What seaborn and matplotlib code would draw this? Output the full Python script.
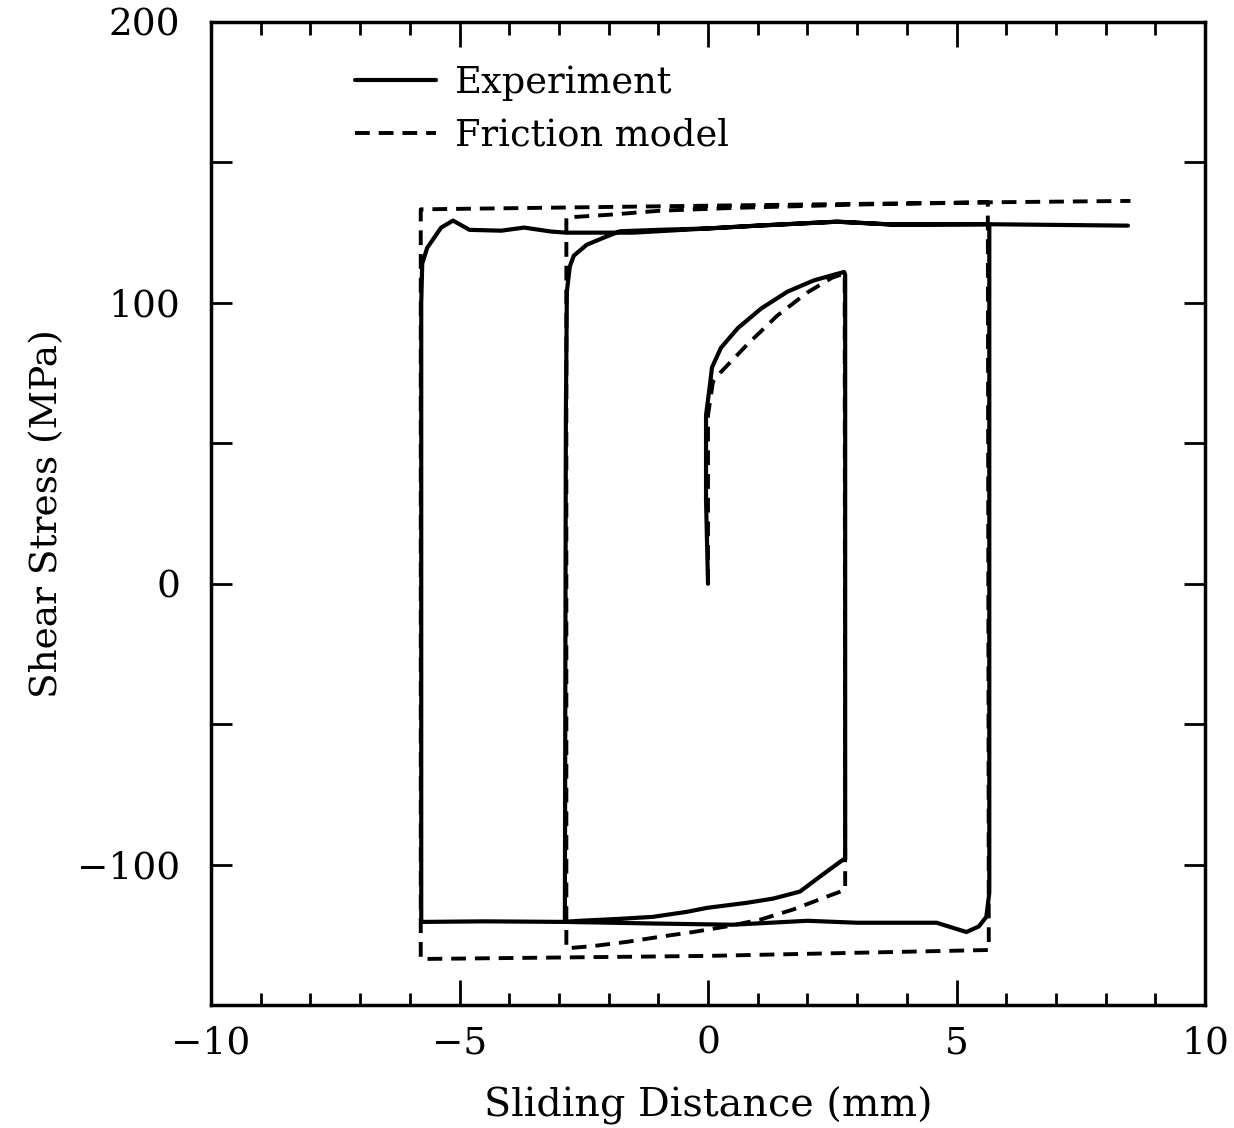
import numpy as np
import pandas as pd
import matplotlib
matplotlib.use("Agg")
import matplotlib.pyplot as plt
import seaborn as sns
from matplotlib.ticker import MultipleLocator

# ---- data ----
exp_x = [0.00, -0.04, -0.04, 0.04, 0.08, 0.26, 0.60, 1.07, 1.60, 2.13, 2.53, 2.74,
         2.76, 2.76,
         2.72, 2.25, 1.85, 1.31, 0.78, -0.02, -0.42, -1.11, -1.77, -2.58, -2.88,
         -2.86, -2.84, -2.78, -2.70, -2.44, -2.10, -1.77, -1.00, 0.00, 1.00, 2.60, 3.70, 5.63,
         5.66, 5.66, 5.60, 5.45, 5.20, 4.60, 3.00, 2.00, 0.50, -1.00, -2.88, -4.50, -5.75,
         -5.77, -5.77, -5.75, -5.65, -5.37, -5.13, -4.80, -4.16, -3.70, -3.16, -2.86, -1.50,
         0.00, 1.00, 2.60, 3.70, 5.63, 8.45]
exp_y = [0.0, 30.0, 60.0, 71.0, 77.0, 84.0, 91.0, 98.0, 104.0, 108.0, 110.0, 111.0,
         110.0, -98.0,
         -98.2, -104.3, -109.6, -112.1, -113.6, -115.4, -116.8, -118.6, -119.3, -120.0, -120.4,
         60.0, 104.0, 113.0, 116.8, 120.7, 123.2, 125.5, 126.0, 126.5, 127.5, 128.9, 127.9, 128.0,
         127.0, -110.0, -118.6, -122.0, -124.0, -120.7, -120.7, -120.0, -121.4, -121.0, -120.4, -120.2, -120.4,
         -120.0, 100.0, 114.0, 119.6, 126.8, 129.3, 126.0, 125.7, 126.8, 125.4, 125.0, 125.0,
         126.5, 127.5, 128.9, 127.9, 128.0, 127.5]

model_x = [0.00, 0.00, 0.10, 0.24, 0.78, 1.39, 1.99, 2.50, 2.75,
           2.76, 2.39, 1.71, 1.05, 0.38, -0.30, -0.97, -1.63, -2.31, -2.85,
           -2.85, -1.97, -0.97, 0.50, 3.00, 5.63,
           5.65, 0.00, -5.78,
           -5.78, 0.00, 5.63, 8.50]
model_y = [0.0, 60.0, 72.0, 75.0, 85.0, 95.4, 103.6, 109.0, 110.5,
           -109.0, -111.4, -116.0, -119.6, -122.0, -124.0, -125.7, -127.5, -129.0, -129.8,
           130.4, 131.4, 132.8, 133.8, 135.0, 135.8,
           -130.4, -132.5, -133.6,
           133.3, 134.6, 135.8, 136.3]

series_names = ["Experiment", "Friction model"]
x_ticks = [-10, -5, 0, 5, 10]
y_ticks = [-100, 0, 100, 200]

# ---- plotting ----
sns.set_theme(style="ticks")
plt.rcParams["font.family"] = ["DejaVu Serif"]
plt.rcParams["axes.unicode_minus"] = True
plt.rcParams["text.color"] = "black"

fig = plt.figure(figsize=(12.34, 11.28), dpi=100)
ax = fig.add_axes([0.171, 0.109, 0.8055, 0.8715])

exp_df = pd.DataFrame({"x": exp_x, "y": exp_y})
mod_df = pd.DataFrame({"x": model_x, "y": model_y})

sns.lineplot(data=exp_df, x="x", y="y", sort=False, estimator=None, ax=ax,
             color="black", linewidth=3.0, label=series_names[0])
sns.lineplot(data=mod_df, x="x", y="y", sort=False, estimator=None, ax=ax,
             color="black", linewidth=2.8, linestyle=(0, (3.8, 2.3)),
             label=series_names[1])

ax.set_xlim(-10, 10)
ax.set_ylim(-150, 200)
ax.set_xticks(x_ticks)
ax.set_xticklabels([f"{v:g}".replace("-", "\u2212") for v in x_ticks])
ax.xaxis.set_minor_locator(MultipleLocator(1))
ax.yaxis.set_major_locator(MultipleLocator(50))
ax.set_yticklabels([(f"{v:g}".replace("-", "\u2212") if v in y_ticks else "")
                    for v in ax.get_yticks()])

ax.tick_params(axis="x", which="major", direction="in", length=18, width=2,
               top=True, bottom=True, labelsize=27, pad=15, colors="black")
ax.tick_params(axis="x", which="minor", direction="in", length=9, width=2,
               top=True, bottom=True, colors="black")
ax.tick_params(axis="y", which="major", direction="in", length=15, width=2,
               left=True, right=True, labelsize=27, pad=22, colors="black")

for s in ax.spines.values():
    s.set_linewidth(2.5)
    s.set_color("black")

ax.set_xlabel("Sliding Distance (mm)", fontsize=28.5, labelpad=18, color="black")
ax.set_ylabel("Shear Stress (MPa)", fontsize=27, labelpad=9, color="black")

leg = ax.legend(loc="upper left", bbox_to_anchor=(0.112, 0.99), frameon=False,
                fontsize=26.5, handlelength=2.2, handletextpad=0.5, labelspacing=0.45,
                labelcolor="black")

fig.savefig("out.png", dpi=100, facecolor="white")
